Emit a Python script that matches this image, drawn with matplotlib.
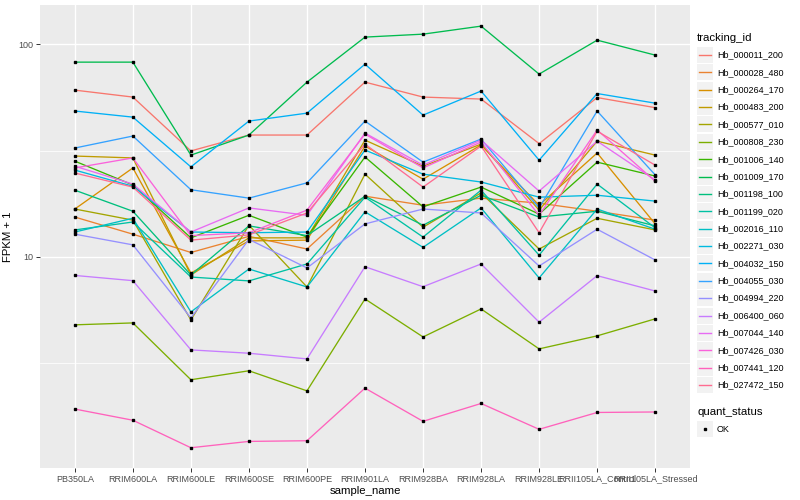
import matplotlib
matplotlib.use("Agg")
import matplotlib.pyplot as plt
from matplotlib.lines import Line2D
import matplotlib.patches as patches

plt.rcParams["font.family"] = ["Liberation Sans", "DejaVu Sans"]

# ---------- data -------------------------------------------------------------

samples = ["PB350LA", "RRIM600LA", "RRIM600LE", "RRIM600SE", "RRIM600PE",
           "RRIM901LA", "RRIM928BA", "RRIM928LA", "RRIM928LE",
           "RRII105LA_Control", "RRII105LA_Stressed"]

tracking_ids = ["Hb_000011_200", "Hb_000028_480", "Hb_000264_170", "Hb_000483_200",
                "Hb_000577_010", "Hb_000808_230", "Hb_001006_140", "Hb_001009_170",
                "Hb_001198_100", "Hb_001199_020", "Hb_002016_110", "Hb_002271_030",
                "Hb_004032_150", "Hb_004055_030", "Hb_004994_220", "Hb_006400_060",
                "Hb_007044_140", "Hb_007426_030", "Hb_007441_120", "Hb_027472_150"]

# FPKM + 1, one list per tracking_id, in sample order
hb_000011_200 = [60.8, 56.4, 31.5, 37.4, 37.4, 66.3, 56.4, 55.2, 34.1, 56.1, 50.3]
hb_000028_480 = [15.4, 12.8, 10.5, 12.5, 10.9, 19.3, 17.5, 18.9, 17.9, 16.4, 14.9]
hb_000264_170 = [16.8, 26.2, 8.41, 11.9, 12.0, 33.2, 23.2, 33.6, 17.5, 30.8, 14.3]
hb_000483_200 = [29.8, 29.2, 8.23, 12.3, 12.3, 35.4, 26.7, 33.9, 16.6, 35.0, 30.1]
hb_000577_010 = [16.8, 14.9, 5.06, 14.1, 7.23, 24.5, 13.8, 20.0, 10.9, 15.2, 13.4]
hb_000808_230 = [4.80, 4.90, 2.65, 2.92, 2.35, 6.35, 4.21, 5.70, 3.70, 4.26, 5.12]
hb_001006_140 = [28.2, 21.8, 12.3, 15.7, 12.4, 29.5, 17.2, 21.3, 15.9, 27.9, 24.0]
hb_001009_170 = [82.3, 82.3, 30.1, 37.4, 66.3, 107.9, 111.4, 121.5, 72.3, 104.4, 88.8]
hb_001198_100 = [20.6, 16.4, 8.23, 14.0, 12.6, 19.3, 14.1, 19.5, 15.4, 16.4, 14.0]
hb_001199_020 = [13.4, 14.6, 8.05, 7.72, 9.27, 19.1, 12.4, 20.6, 10.2, 22.0, 13.7]
hb_002016_110 = [13.1, 15.2, 5.52, 8.78, 7.23, 16.3, 11.1, 17.0, 7.97, 16.8, 13.5]
hb_002271_030 = [25.6, 21.5, 13.1, 13.0, 13.1, 31.8, 24.5, 22.5, 19.1, 19.5, 18.3]
hb_004032_150 = [48.5, 45.4, 26.5, 43.5, 47.4, 80.5, 46.4, 60.2, 28.5, 58.6, 52.8]
hb_004055_030 = [32.5, 37.0, 20.7, 18.9, 22.3, 43.5, 27.9, 35.8, 17.0, 48.5, 24.3]
hb_004994_220 = [12.8, 11.4, 5.17, 12.1, 8.88, 14.3, 16.8, 16.1, 9.07, 13.5, 9.68]
hb_006400_060 = [8.19, 7.74, 3.66, 3.53, 3.32, 9.00, 7.25, 9.27, 4.94, 8.17, 6.92]
hb_007044_140 = [26.7, 22.0, 13.1, 17.0, 15.7, 38.2, 27.0, 35.4, 20.4, 35.0, 23.0]
hb_007426_030 = [26.2, 29.2, 12.6, 13.0, 16.6, 37.8, 26.2, 34.7, 15.7, 39.5, 22.7]
hb_007441_120 = [1.93, 1.71, 1.27, 1.36, 1.37, 2.42, 1.69, 2.05, 1.55, 1.86, 1.87]
hb_027472_150 = [24.8, 21.3, 12.0, 12.7, 16.1, 33.9, 21.3, 33.2, 13.0, 39.0, 27.0]

series = [hb_000011_200, hb_000028_480, hb_000264_170, hb_000483_200, hb_000577_010,
          hb_000808_230, hb_001006_140, hb_001009_170, hb_001198_100, hb_001199_020,
          hb_002016_110, hb_002271_030, hb_004032_150, hb_004055_030, hb_004994_220,
          hb_006400_060, hb_007044_140, hb_007426_030, hb_007441_120, hb_027472_150]

# ggplot hue_pal()(20)
colors = ["#F8766D", "#EA8331", "#D89000", "#C09B00", "#A3A500",
          "#7CAE00", "#39B600", "#00BB4E", "#00BF7D", "#00C1A3",
          "#00BFC4", "#00BAE0", "#00B0F6", "#35A2FF", "#9590FF",
          "#C77CFF", "#E76BF3", "#FA62DB", "#FF62BC", "#FF6C91"]

# ---------- figure -----------------------------------------------------------

W, H = 800, 500
fig = plt.figure(figsize=(8, 5), dpi=100)
fig.patch.set_facecolor("white")

# panel in pixels: x 40..690, y 5..468
px0, px1, py0, py1 = 40, 690, 5, 468
ax = fig.add_axes([px0 / W, 1 - py1 / H, (px1 - px0) / W, (py1 - py0) / H])
ax.set_facecolor("#EBEBEB")
for s in ax.spines.values():
    s.set_visible(False)

ax.set_yscale("log")
ax.set_xlim(-0.6, len(samples) - 0.4)
ax.set_ylim(1.02, 152.7)

# grid: major + ggplot-style minor at log midpoints
for v in [10 ** 0.5, 10 ** 1.5]:
    ax.axhline(v, color="white", lw=0.55, zorder=0)
for v in [10, 100]:
    ax.axhline(v, color="white", lw=1.0, zorder=0)
for i in range(len(samples)):
    ax.axvline(i, color="white", lw=1.0, zorder=0)

xs = list(range(len(samples)))
for vals, c in zip(series, colors):
    ax.plot(xs, vals, color=c, lw=0.95, zorder=2)
for vals in series:
    ax.plot(xs, vals, ls="none", marker="s", ms=2.0, color="black", zorder=3)

ax.set_yticks([10, 100])
ax.set_yticklabels(["10", "100"])
ax.yaxis.set_minor_locator(matplotlib.ticker.NullLocator())
ax.set_xticks(xs)
ax.set_xticklabels(samples)
ax.tick_params(axis="both", colors="#333333", labelcolor="#4D4D4D",
               labelsize=6.5, length=2.8, width=0.7, pad=2)
ax.set_xlabel("sample_name", fontsize=8.2, color="black", labelpad=2)
ax.set_ylabel("FPKM + 1", fontsize=8.2, color="black", labelpad=4)

# ---------- legend (drawn by hand, pixel coords) -----------------------------

lg = fig.add_axes([0, 0, 1, 1])
lg.set_xlim(0, W)
lg.set_ylim(H, 0)
lg.axis("off")

lg.text(697, 38, "tracking_id", fontsize=8.2, va="center", ha="left")
key_h = 17.37
y0 = 55
for i, (name, c) in enumerate(zip(tracking_ids, colors)):
    yc = y0 + i * key_h
    lg.add_patch(patches.Rectangle((697, yc - 8), 16, 16,
                                   facecolor="#F2F2F2", edgecolor="none"))
    lg.add_line(Line2D([699, 711], [yc, yc], color=c, lw=1.0))
    lg.text(717, yc, name, fontsize=6.5, va="center", ha="left")

lg.text(697, 412, "quant_status", fontsize=8.2, va="center", ha="left")
lg.add_patch(patches.Rectangle((697, 421), 16, 16,
                               facecolor="#F2F2F2", edgecolor="none"))
lg.add_line(Line2D([705], [429], ls="none", marker="s", ms=2.0, color="black"))
lg.text(717, 429, "OK", fontsize=6.5, va="center", ha="left")

fig.savefig("out.png", dpi=100, facecolor="white")
